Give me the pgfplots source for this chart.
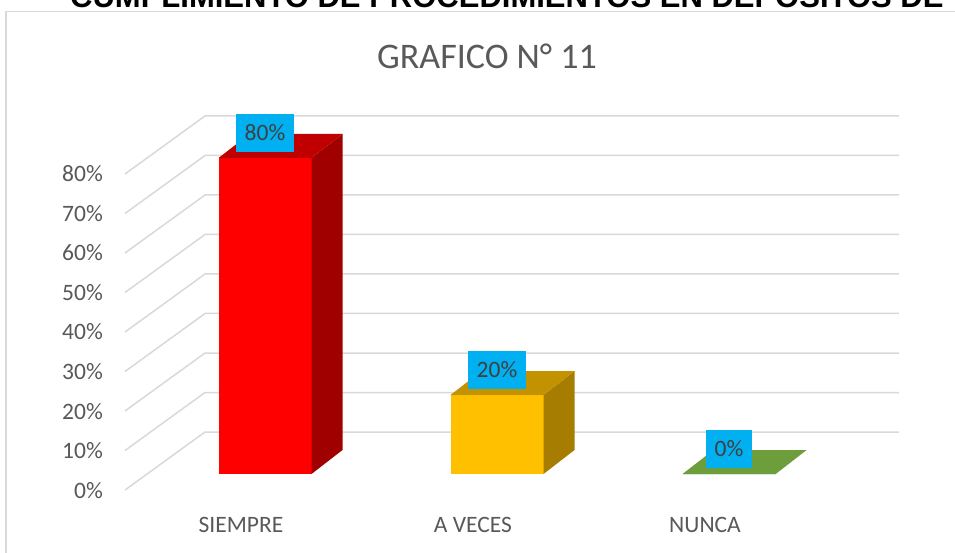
\documentclass[border=0pt]{standalone}
\usepackage{fontspec}
\setmainfont{Carlito}
\newfontfamily\topfont{Liberation Sans}
\usepackage{pgfplots}
\pgfplotsset{compat=1.18}
\usepackage{pgfplotstable}
\definecolor{gridc}{RGB}{217,217,217}
\definecolor{txt}{RGB}{89,89,89}
\definecolor{ltxt}{RGB}{64,64,64}
\definecolor{lblue}{RGB}{0,176,240}
\definecolor{rfront}{RGB}{255,0,0}
\definecolor{rtop}{RGB}{192,0,0}
\definecolor{rside}{RGB}{160,0,0}
\definecolor{gfront}{RGB}{255,192,0}
\definecolor{gtop}{RGB}{194,146,0}
\definecolor{gside}{RGB}{166,125,0}
\definecolor{vfront}{RGB}{112,173,71}
\definecolor{vtop}{RGB}{110,158,60}
\definecolor{vside}{RGB}{84,130,53}

\pgfplotstableread{
x y
0 80
}\siempre
\pgfplotstableread{
x y
1 20
}\aveces
\pgfplotstableread{
x y
2 0
}\nunca

% 3D bar drawn as a plot mark at the data point (origin = data point)
\pgfdeclareplotmark{bar3d}{%
  \pgfplotspointaxisdirectionxy{0}{\hval}\pgfgetlastxy{\dummyx}{\H}%
  % front face
  \pgfsetfillcolor{\colA}%
  \pgfpathmoveto{\pgfpoint{-22.5pt}{16pt}}%
  \pgfpathlineto{\pgfpoint{70.5pt}{16pt}}%
  \pgfpathlineto{\pgfpoint{70.5pt}{16pt-\H}}%
  \pgfpathlineto{\pgfpoint{-22.5pt}{16pt-\H}}%
  \pgfpathclose
  \pgfusepath{fill}%
  % side face
  \pgfsetfillcolor{\colC}%
  \pgfpathmoveto{\pgfpoint{70.5pt}{16pt}}%
  \pgfpathlineto{\pgfpoint{101.5pt}{40pt}}%
  \pgfpathlineto{\pgfpoint{101.5pt}{40pt-\H}}%
  \pgfpathlineto{\pgfpoint{70.5pt}{16pt-\H}}%
  \pgfpathclose
  \pgfusepath{fill}%
  % top face
  \pgfsetfillcolor{\colB}%
  \pgfpathmoveto{\pgfpoint{-22.5pt}{16pt}}%
  \pgfpathlineto{\pgfpoint{70.5pt}{16pt}}%
  \pgfpathlineto{\pgfpoint{101.5pt}{40pt}}%
  \pgfpathlineto{\pgfpoint{8.5pt}{40pt}}%
  \pgfpathclose
  \pgfusepath{fill}%
}

\pgfplotsset{bar3d/.style n args={3}{
  only marks, mark=bar3d,
  point meta=y,
  visualization depends on={rawy \as \hval},
  visualization depends on={value #1 \as \colA},
  visualization depends on={value #2 \as \colB},
  visualization depends on={value #3 \as \colC},
  nodes near coords={\pgfmathprintnumber{\pgfplotspointmeta}\%},
  nodes near coords style={anchor=center, xshift=24pt, yshift=41pt,
    fill=lblue, text=ltxt, font=\fontsize{23.5}{28}\selectfont,
    inner xsep=9pt, inner ysep=0pt, minimum height=38pt},
}}

\begin{document}
\begin{tikzpicture}
\fill[white] (0,0) rectangle (955pt,552pt);
\begin{scope}
\clip (0,0) rectangle (955pt,552pt);
\node[anchor=base west, inner sep=0pt, font=\topfont\bfseries\fontsize{31}{36}\selectfont] at (70pt,544pt) {CUMPLIMIENTO DE PROCEDIMIENTOS EN DEPOSITOS DE};
\draw[gridc, line width=1.5pt] (6pt,-10pt) rectangle (975pt,540.5pt);
\node[text=txt, font=\fontsize{36}{42}\selectfont] at (487pt,496pt) {GRAFICO N° 11};
\begin{axis}[
  at={(0pt,0pt)}, anchor=south west,
  scale only axis, width=955pt, height=552pt,
  xmin=-1.0388, xmax=3.0776, ymin=-15.696, ymax=124.05,
  clip=false,
  axis line style={draw=none},
  tick style={draw=none},
  major tick length=0pt,
  xtick={0,1,2}, xticklabels={SIEMPRE,A VECES,NUNCA},
  xtick pos=bottom, ytick pos=left,
  ytick={0,10,...,80},
  yticklabel={\pgfmathprintnumber{\tick}\%},
  /pgf/number format/assume math mode=true,
  tick label style={text=txt, font=\fontsize{23.5}{28}\selectfont, inner sep=0pt},
  yticklabel style={anchor=base east, xshift=103pt, yshift=-8pt},
  xticklabel style={anchor=base, yshift=20pt},
]
\pgfplotsinvokeforeach{0,10,...,80}{
  \draw[gridc, line width=1.5pt] (axis cs:-0.5,#1) -- ++(80pt,58pt) -- ++(694pt,0pt);
}
\addplot[bar3d={rfront}{rtop}{rside}] table {\siempre};
\addplot[bar3d={gfront}{gtop}{gside}] table {\aveces};
\addplot[bar3d={vfront}{vtop}{vside}] table {\nunca};
\end{axis}
\end{scope}
\pgfresetboundingbox
\useasboundingbox (0,0) rectangle (955pt,552pt);
\end{tikzpicture}
\end{document}
